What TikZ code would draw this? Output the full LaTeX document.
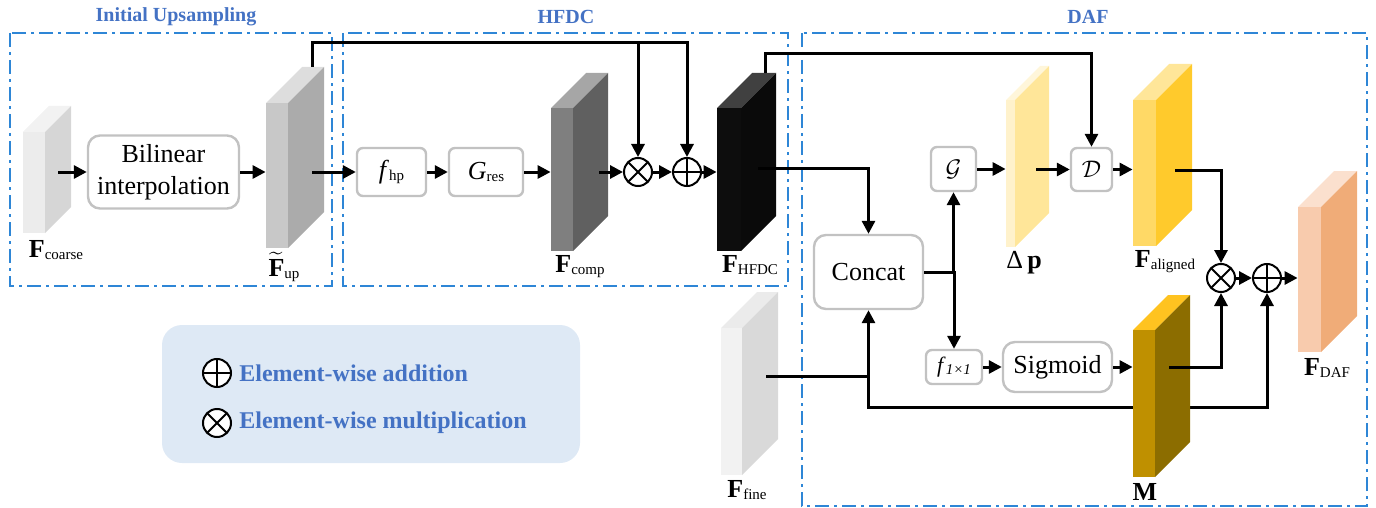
\documentclass[tikz,border=0pt]{standalone}
\usepackage{amsmath}
\usepackage{fontspec}
\setmainfont{Liberation Serif}
\usetikzlibrary{positioning, arrows.meta}
\definecolor{frame}{RGB}{46,134,214}
\definecolor{head}{RGB}{68,114,196}
\definecolor{boxline}{gray}{0.76}
\definecolor{legfill}{RGB}{222,233,245}
\definecolor{coarsefront}{HTML}{ECECEC}
\definecolor{coarseside}{HTML}{D6D6D6}
\definecolor{coarsetop}{HTML}{F2F2F2}
\definecolor{upfront}{HTML}{C8C8C8}
\definecolor{upside}{HTML}{ABABAB}
\definecolor{uptop}{HTML}{DDDDDD}
\definecolor{compfront}{HTML}{7F7F7F}
\definecolor{compside}{HTML}{606060}
\definecolor{comptop}{HTML}{A6A6A6}
\definecolor{hfdcfront}{HTML}{0D0D0D}
\definecolor{hfdcside}{HTML}{0A0A0A}
\definecolor{hfdctop}{HTML}{404040}
\definecolor{dpfront}{HTML}{FFF2CC}
\definecolor{dpside}{HTML}{FFE699}
\definecolor{dptop}{HTML}{FFF6DA}
\definecolor{alfront}{HTML}{FFD966}
\definecolor{alside}{HTML}{FFCA2C}
\definecolor{altop}{HTML}{FFE699}
\definecolor{mfront}{HTML}{BF9000}
\definecolor{mside}{HTML}{8C6D00}
\definecolor{mtop}{HTML}{FFC320}
\definecolor{daffront}{HTML}{F8CBAD}
\definecolor{dafside}{HTML}{F0AC78}
\definecolor{daftop}{HTML}{FBE0CE}
\definecolor{finefront}{HTML}{F2F2F2}
\definecolor{fineside}{HTML}{D9D9D9}
\definecolor{finetop}{HTML}{EBEBEB}

% feature block: name, x1, y1, x2, y2 (front face), depth, front, side, top
\newcommand{\slab}[9]{%
  \fill[#9] (#2,#3) -- ++(#6,-#6) -- ++({#4-#2},0) -- (#4,#3) -- cycle;
  \fill[#8] (#4,#3) -- ++(#6,-#6) -- ++(0,{#5-#3}) -- (#4,#5) -- cycle;
  \fill[#7] (#2,#3) rectangle (#4,#5);
  \node[inner sep=0pt, minimum width={(#4-#2)*0.5pt},
        minimum height={(#5-#3)*0.5pt}] (#1) at ({(#2+#4)/2},{(#3+#5)/2}) {};
}
\newcommand{\sbs}[1]{\raisebox{-1pt}{\fontsize{7.5}{9}\selectfont #1}}

\begin{document}
\begin{tikzpicture}[
  x=0.5pt, y=-0.5pt,
  grp/.style={draw=frame, line width=1pt,
              dash pattern=on 7pt off 2.5pt on 1.5pt off 2.5pt},
  ttl/.style={font=\fontsize{10}{12}\selectfont\bfseries, text=head, inner sep=0pt},
  opbox/.style={draw=boxline, line width=1.2pt, rounded corners=3pt, inner sep=0pt,
                fill=white, font=\fontsize{13}{16}\selectfont},
  bigbox/.style={opbox, rounded corners=6pt, align=center},
  mulop/.style={circle, draw, line width=1pt, fill=white, minimum size=14pt,
                inner sep=0pt,
                path picture={\draw[line width=1pt]
                  (path picture bounding box.north west) -- (path picture bounding box.south east)
                  (path picture bounding box.north east) -- (path picture bounding box.south west);}},
  addop/.style={circle, draw, line width=1pt, fill=white, minimum size=14pt,
                inner sep=0pt,
                path picture={\draw[line width=1pt]
                  (path picture bounding box.north) -- (path picture bounding box.south)
                  (path picture bounding box.east) -- (path picture bounding box.west);}},
  lbl/.style={anchor=base, inner sep=0pt, font=\fontsize{13}{16}\selectfont},
  legtxt/.style={font=\fontsize{12}{14}\selectfont\bfseries, text=head, inner sep=0pt},
  ar/.style={-{Triangle[length=6.5pt,width=6.5pt]}, line width=1.5pt},
]
\useasboundingbox (0,0) rectangle (1376,508);

% group frames
\draw[grp] (10,33) rectangle (332,286);
\draw[grp] (343,33) rectangle (788,286);
\draw[grp] (802,33) rectangle (1367,506);
\node[ttl] (tup)   at (176,17)  {Initial Upsampling};
\node[ttl] (thfdc) at (566,17)  {HFDC};
\node[ttl] (tdaf)  at (1088,17) {DAF};

% legend
\node[fill=legfill, rounded corners=10pt, minimum width=209pt, minimum height=69pt]
  (leg) at (371,394) {};
\node[addop] (legadd) at (217,373) {};
\node[mulop] (legmul) at (217,423) {};
\node[legtxt, right=3.5pt of legadd] (legaddtxt) {Element-wise addition};
\node[legtxt, right=3.5pt of legmul] (legmultxt) {Element-wise multiplication};

% operator boxes
\node[bigbox, minimum width=75.5pt, minimum height=36.5pt] (bil) at (163.5,172)
  {Bilinear\\interpolation};
\node[opbox, minimum width=34.5pt, minimum height=24pt] (fhp) at (391.5,172)
  {\textit{f}\sbs{hp}};
\node[opbox, minimum width=37pt, minimum height=24pt] (gres) at (486,172)
  {\textit{G}\sbs{res}};
\node[mulop] (mulA) at (638,172) {};
\node[addop] (addA) at (687,172) {};
\node[bigbox, minimum width=54.5pt, minimum height=37pt] (concat) at (868.5,272) {Concat};
\node[opbox, minimum width=22.5pt, minimum height=22pt] (gg) at (953.5,169) {$\mathcal{G}$};
\node[opbox, minimum width=20.5pt, minimum height=21.5pt] (dd) at (1091.5,169.5) {$\mathcal{D}$};
\node[opbox, minimum width=28pt, minimum height=17pt, font=\fontsize{11}{13}\selectfont]
  (f11) at (954,367) {\textit{f}\sbs{\textit{1×1}}};
\node[bigbox, minimum width=54.5pt, minimum height=25pt] (sig) at (1057.5,367) {Sigmoid};
\node[mulop] (mulB) at (1221,278) {};
\node[addop] (addB) at (1267,278) {};

% line behind M
\coordinate (fine-o) at (766,376);
\draw[ar] (fine-o -| concat.south) -- ++(0,31) -| (addB.south);

% feature blocks
\slab{coarse}{23}{132}{45}{233}{26}{coarsefront}{coarseside}{coarsetop}
\slab{fup}{266}{103}{288}{248}{36}{upfront}{upside}{uptop}
\slab{comp}{551}{108}{573}{251}{35}{compfront}{compside}{comptop}
\slab{hfdc}{717}{108}{741}{251}{35}{hfdcfront}{hfdcside}{hfdctop}
\slab{dp}{1006}{100}{1015}{247}{34}{dpfront}{dpside}{dptop}
\slab{fal}{1133}{100}{1156}{246}{36}{alfront}{alside}{altop}
\slab{mmask}{1133}{330}{1155}{477}{35}{mfront}{mside}{mtop}
\slab{fdaf}{1298}{207}{1321}{352}{36}{daffront}{dafside}{daftop}
\slab{fine}{721}{328}{742}{475}{36}{finefront}{fineside}{finetop}

% block labels
\node[lbl] (lcoarse) at (56,257)   {\textbf{F}\sbs{coarse}};
\node[lbl] (lup)     at (284,276)  {$\widetilde{\text{\bfseries F}}$\sbs{up}};
\node[lbl] (lcomp)   at (580,272)  {\textbf{F}\sbs{comp}};
\node[lbl] (lhfdc)   at (750,272)  {\textbf{F}\sbs{HFDC}};
\node[lbl] (ldp)     at (1024,268) {Δ\,\textbf{p}};
\node[lbl] (lal)     at (1165,267) {\textbf{F}\sbs{aligned}};
\node[lbl] (lm)      at (1145,500) {\textbf{M}};
\node[lbl] (ldaf)    at (1327,375) {\textbf{F}\sbs{DAF}};
\node[lbl] (lfine)   at (747,497)  {\textbf{F}\sbs{fine}};

% block outlets
\coordinate (coarse-o) at (58,172);
\coordinate (fup-o)    at (312,172);
\coordinate (fup-t)    at (312,67);
\coordinate (comp-o)   at (599,172);
\coordinate (hfdc-o)   at (758,168);
\coordinate (hfdc-t)   at (765,73);
\coordinate (dp-o)     at (1036,169.5);
\coordinate (fal-o)    at (1175,170);
\coordinate (mm-o)     at (1169,367);
\path (fup-t) ++(0,-24) coordinate (upk);
\path (hfdc-t) ++(0,-19) coordinate (hfk);

% upsampling + HFDC
\draw[ar] (coarse-o) -- (bil.west);
\draw[ar] (bil.east) -- (bil.east -| fup.west);
\draw[ar] (fup-o) -- (fhp.west);
\draw[ar] (fhp) -- (gres);
\draw[ar] (gres.east) -- (gres.east -| comp.west);
\draw[ar] (comp-o) -- (mulA);
\draw[ar] (mulA) -- (addA);
\draw[ar] (addA.east) -- (addA.east -| hfdc.west);
\draw[ar] (fup-t) -- (upk) -| (addA.north);
\draw[ar] (upk -| mulA.north) -- (mulA.north);

% DAF
\draw[ar] (hfdc-o) -| (concat.north);
\draw[ar] (hfdc-t) -- (hfk) -| (dd.north);
\draw[ar] (fine-o) -| (concat.south);
\draw[ar] (concat.east) -| (gg.south);
\draw[ar] (concat.east) -| (f11.north);
\draw[ar] (gg.east) -- (gg.east -| dp.west);
\draw[ar] (dp-o) -- (dd.west);
\draw[ar] (dd.east) -- (dd.east -| fal.west);
\draw[ar] (f11) -- (sig);
\draw[ar] (sig.east) -- (sig.east -| mmask.west);
\draw[ar] (fal-o) -| (mulB.north);
\draw[ar] (mm-o) -| (mulB.south);
\draw[ar] (mulB) -- (addB);
\draw[ar] (addB.east) -- (addB.east -| fdaf.west);
\end{tikzpicture}
\end{document}
